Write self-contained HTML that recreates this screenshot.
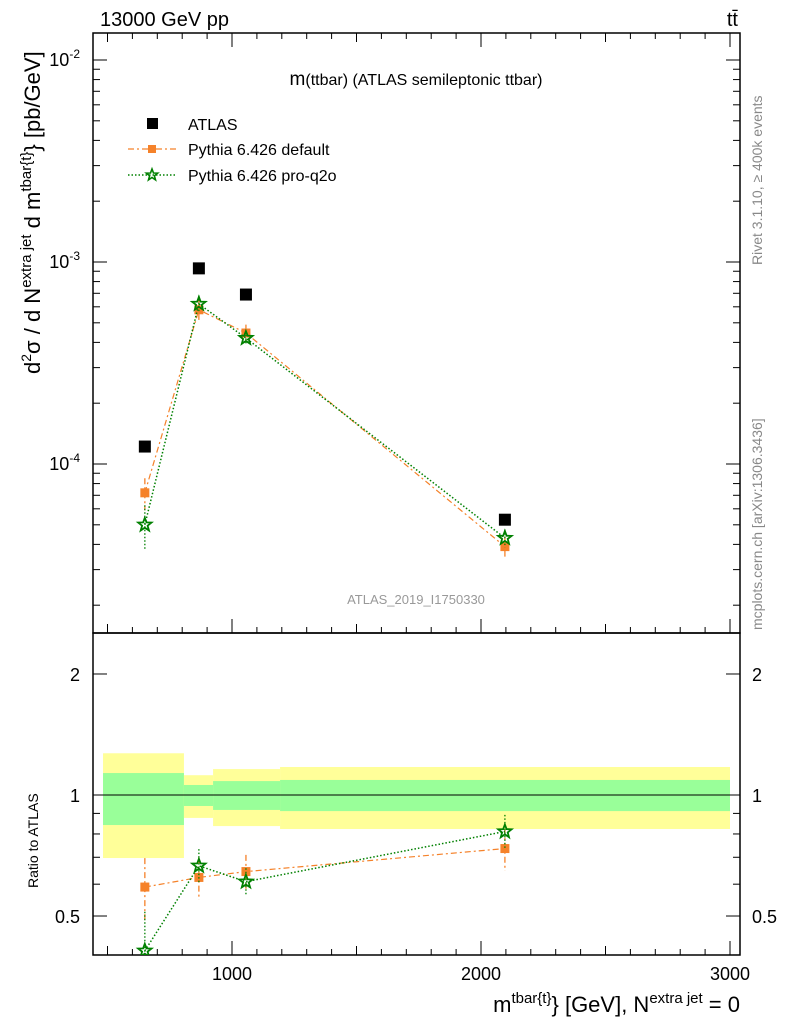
<!DOCTYPE html>
<html><head><meta charset="utf-8"><style>
body{margin:0;background:#fff;font-family:"Liberation Sans",sans-serif}
svg text{font-family:"Liberation Sans",sans-serif}
</style></head><body>
<svg id="c" width="786" height="1024" xmlns="http://www.w3.org/2000/svg">
<defs><clipPath id="cm"><rect x="93" y="33" width="647" height="600"/></clipPath><clipPath id="cr"><rect x="93" y="633" width="647" height="322"/></clipPath></defs>
<text x="100" y="26" font-size="20">13000 GeV pp</text>
<text x="738" y="26" font-size="20" text-anchor="end">tt̄</text>
<text x="416" y="85" font-size="16" text-anchor="middle"><tspan font-size="19">m</tspan>(ttbar) (ATLAS semileptonic ttbar)</text>
<text x="416" y="604" font-size="13" fill="#999" text-anchor="middle">ATLAS_2019_I1750330</text>
<text transform="translate(762,265) rotate(-90)" font-size="14" fill="#888">Rivet 3.1.10, ≥ 400k events</text>
<text transform="translate(762,630) rotate(-90)" font-size="14" fill="#888">mcplots.cern.ch [arXiv:1306.3436]</text>
<text transform="translate(40,374) rotate(-90)" font-size="22">d<tspan font-size="14" dy="-9">2</tspan><tspan dy="9">σ /  d N</tspan><tspan font-size="15" dy="-9">extra jet</tspan><tspan dy="9"> d m</tspan><tspan font-size="15" dy="-9">tbar{t}</tspan><tspan dy="9">} [pb/GeV]</tspan></text>
<text transform="translate(38,888) rotate(-90)" font-size="14">Ratio to ATLAS</text>
<text x="740" y="1012" font-size="22" text-anchor="end">m<tspan font-size="15" dy="-9">tbar{t}</tspan><tspan dy="9">} [GeV], N</tspan><tspan font-size="15" dy="-9">extra jet</tspan><tspan dy="9"> = 0</tspan></text>
<g id="legend">
<rect x="147" y="118" width="11" height="11" fill="#000"/>
<text x="188" y="130" font-size="16">ATLAS</text>
<line x1="128" y1="149" x2="176" y2="149" stroke="#f5822a" stroke-width="1.2" stroke-dasharray="6,3,2,3"/>
<rect x="148" y="145" width="8" height="8" fill="#f5822a"/>
<text x="188" y="155" font-size="16">Pythia 6.426 default</text>
<line x1="128" y1="175" x2="176" y2="175" stroke="#008000" stroke-width="1.5" stroke-dasharray="1.5,2"/>
<g id="legstar"></g>
<text x="188" y="181" font-size="16">Pythia 6.426 pro-q2o</text>
</g>
</svg>
<script>
const xVals=[650,867,1056,2096];
const atlasVals=[1.22e-4,9.3e-4,6.9e-4,5.3e-5];
const defaultVals=[7.2e-5,5.8e-4,4.45e-4,3.9e-5];
const defaultErr=[0.18,0.12,0.1,0.12];
const proVals=[5.0e-5,6.2e-4,4.2e-4,4.3e-5];
const proErr=[0.25,0.1,0.08,0.1];
const binEdges=[482,807,924,1193,3000];
const yellowHi=[1.27,1.12,1.16,1.174];
const yellowLo=[0.697,0.877,0.837,0.823];
const greenHi=[1.134,1.059,1.083,1.09];
const greenLo=[0.842,0.939,0.918,0.912];
const svg=document.getElementById('c');
const NS='http://www.w3.org/2000/svg';
const L=93,R=740,T=33,M=633,B=955;
const X=v=>232+(v-1000)*0.249;
const Y=v=>262-202*(Math.log10(v)+3);
const YR=v=>795-402*Math.log10(v);
function el(t,a,p){const e=document.createElementNS(NS,t);for(const k in a)e.setAttribute(k,a[k]);(p||svg).appendChild(e);return e;}
function starPts(cx,cy,r){let s=[];for(let k=0;k<10;k++){const rr=k%2?r*0.42:r;const a=-Math.PI/2+k*Math.PI/5;s.push((cx+rr*Math.cos(a)).toFixed(1)+','+(cy+rr*Math.sin(a)).toFixed(1));}return s.join(' ');}
el('polygon',{points:starPts(152,175,6),fill:'none',stroke:'#008000','stroke-width':1.6},document.getElementById('legstar'));
for(let i=0;i<4;i++){
 const b=el('rect',{x:X(binEdges[i]),y:YR(yellowHi[i]),width:X(binEdges[i+1])-X(binEdges[i]),height:YR(yellowLo[i])-YR(yellowHi[i]),fill:'#ffff99'});
 
 
 const g=el('rect',{x:X(binEdges[i]),y:YR(greenHi[i]),width:X(binEdges[i+1])-X(binEdges[i]),height:YR(greenLo[i])-YR(greenHi[i]),fill:'#99ff99'});
 
 
}
const one=el('line',{x1:L,x2:R,y1:YR(1),y2:YR(1),stroke:'#000','stroke-width':1});


const f1=el('rect',{x:L,y:T,width:R-L,height:M-T,fill:'none',stroke:'#000','stroke-width':1.5});


const f2=el('rect',{x:L,y:M,width:R-L,height:B-M,fill:'none',stroke:'#000','stroke-width':1.5});


for(let v=500;v<=3000;v+=100){
 const big=v%1000===0?14:(v%500===0?9:6);
 [[M,-1],[T,1],[B,-1]].forEach(([y0,d])=>{
  const t=el('line',{x1:X(v),x2:X(v),y1:y0,y2:y0+d*big,stroke:'#000'});
  
  
 });
 if(v%1000===0){
  const tx=el('text',{x:X(v),y:980,'font-size':18,'text-anchor':'middle'});tx.textContent=v;
  
  
 }
}
for(let e=-5;e<=-2;e++){for(let m=1;m<10;m++){const v=m*Math.pow(10,e);const y=Y(v);if(y<T||y>M)continue;
 const len=m===1?14:7;
 [[L,1],[R,-1]].forEach(([x0,d])=>{const t=el('line',{x1:x0,x2:x0+d*len,y1:y,y2:y,stroke:'#000'});
  
  });
 if(m===1){const tx=el('text',{x:80,y:y+6,'font-size':18,'text-anchor':'end'});tx.innerHTML='10<tspan font-size="12" dy="-8">'+e+'</tspan>';
  
  }
}}
const rt=[0.4,0.5,0.6,0.7,0.8,0.9,1,2];
rt.forEach(v=>{const y=YR(v);const big=(v===0.5||v===1||v===2);
 [[L,1],[R,-1]].forEach(([x0,d])=>{const t=el('line',{x1:x0,x2:x0+d*(big?14:7),y1:y,y2:y,stroke:'#000'});
  
  });
 if(big){[[80,'end'],[752,'start']].forEach(([xx,a])=>{const tx=el('text',{x:xx,y:y+7,'font-size':18,'text-anchor':a});tx.textContent=v;
  
  });}
});
function series(vals,err,yf,color,dash,star,name,clip){
 const g=el('g',{'clip-path':clip});
 
 
 const pts=vals.map((v,i)=>X(xVals[i])+','+yf(v)).join(' ');
 el('polyline',{points:pts,fill:'none',stroke:color,'stroke-width':star?1.5:1.2,'stroke-dasharray':dash},g);
 vals.forEach((v,i)=>{const x=X(xVals[i]);
  el('line',{x1:x,x2:x,y1:yf(v*(1+err[i])),y2:yf(v*(1-err[i])),stroke:color,'stroke-width':1.3,'stroke-dasharray':dash},g);
  if(star){const t=el('polygon',{points:starPts(x,yf(v),7),fill:'none',stroke:color,'stroke-width':1.8},g);
   
   }
  else{const r=el('rect',{x:x-4.5,y:yf(v)-4.5,width:9,height:9,fill:color},g);
   
   }
 });
}
series(defaultVals,defaultErr,Y,'#f5822a','6,3,2,3',false,'series-pythia-default','url(#cm)');
series(proVals,proErr,Y,'#008000','1.5,2',true,'series-pythia-proq2o','url(#cm)');
atlasVals.forEach((v,i)=>{const r=el('rect',{x:X(xVals[i])-6,y:Y(v)-6,width:12,height:12,fill:'#000'});
 
 });
series(defaultVals.map((v,i)=>v/atlasVals[i]),defaultErr,YR,'#f5822a','6,3,2,3',false,'ratio-pythia-default','url(#cr)');
series(proVals.map((v,i)=>v/atlasVals[i]),proErr,YR,'#008000','1.5,2',true,'ratio-pythia-proq2o','url(#cr)');
</script>
</body></html>
